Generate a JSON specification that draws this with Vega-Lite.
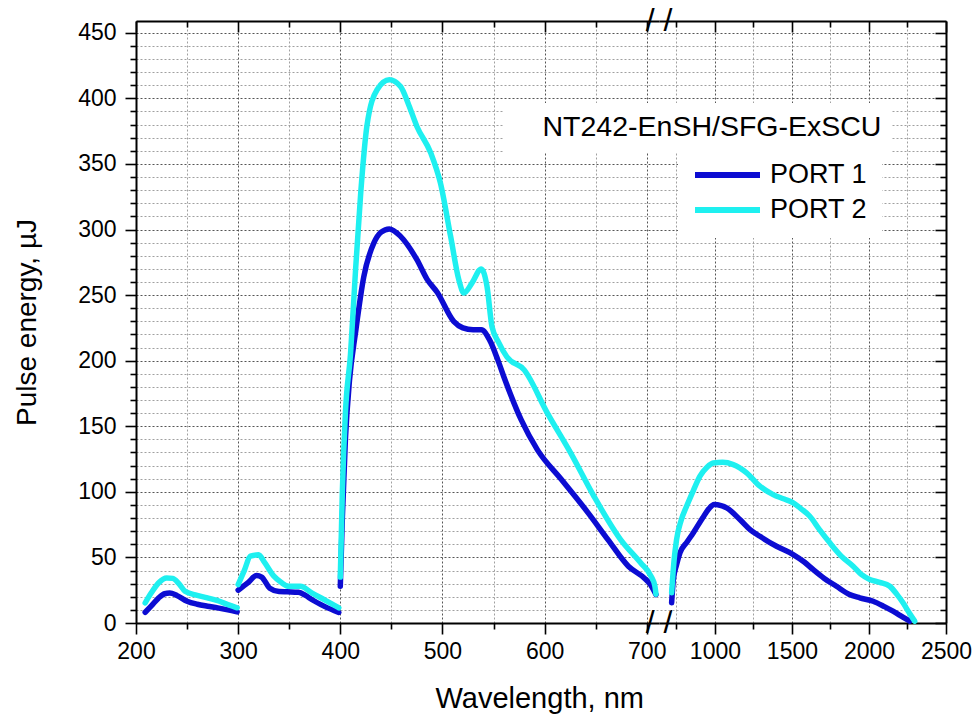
{
  "$schema": "https://vega.github.io/schema/vega-lite/v6.json",
  "autosize": {"type": "none"},
  "padding": {"left": 136, "top": 21, "right": 838, "bottom": 694},
  "bounds": "flush",
  "config": {
    "font": "Liberation Sans",
    "view": {"stroke": null},
    "axis": {
      "labelFont": "Liberation Sans", "labelFontSize": 23, "labelColor": "black",
      "titleFont": "Liberation Sans", "titleFontSize": 29, "titleFontWeight": "normal", "titleColor": "black",
      "domainColor": "black", "domainWidth": 2, "tickColor": "black", "tickWidth": 1.6,
      "labelOverlap": false, "labelFlush": false
    }
  },
  "datasets": {
    "vis": [
      {"port": "PORT 1", "seg": 1, "wl": 209, "e": 8.2},
      {"port": "PORT 1", "seg": 1, "wl": 215, "e": 13},
      {"port": "PORT 1", "seg": 1, "wl": 222, "e": 19},
      {"port": "PORT 1", "seg": 1, "wl": 228, "e": 22.3},
      {"port": "PORT 1", "seg": 1, "wl": 233, "e": 22.8},
      {"port": "PORT 1", "seg": 1, "wl": 240, "e": 21},
      {"port": "PORT 1", "seg": 1, "wl": 250, "e": 16.6},
      {"port": "PORT 1", "seg": 1, "wl": 260, "e": 14.3},
      {"port": "PORT 1", "seg": 1, "wl": 270, "e": 12.8},
      {"port": "PORT 1", "seg": 1, "wl": 280, "e": 11.5},
      {"port": "PORT 1", "seg": 1, "wl": 290, "e": 10},
      {"port": "PORT 1", "seg": 1, "wl": 299, "e": 8.5},
      {"port": "PORT 1", "seg": 2, "wl": 300, "e": 25},
      {"port": "PORT 1", "seg": 2, "wl": 310, "e": 31},
      {"port": "PORT 1", "seg": 2, "wl": 318, "e": 36.2},
      {"port": "PORT 1", "seg": 2, "wl": 323, "e": 35},
      {"port": "PORT 1", "seg": 2, "wl": 331, "e": 26.5},
      {"port": "PORT 1", "seg": 2, "wl": 340, "e": 24},
      {"port": "PORT 1", "seg": 2, "wl": 348, "e": 23.8},
      {"port": "PORT 1", "seg": 2, "wl": 359, "e": 23.5},
      {"port": "PORT 1", "seg": 2, "wl": 366, "e": 21},
      {"port": "PORT 1", "seg": 2, "wl": 372, "e": 17.9},
      {"port": "PORT 1", "seg": 2, "wl": 385, "e": 12.5},
      {"port": "PORT 1", "seg": 2, "wl": 398.5, "e": 8},
      {"port": "PORT 1", "seg": 3, "wl": 400, "e": 28},
      {"port": "PORT 1", "seg": 3, "wl": 402, "e": 80},
      {"port": "PORT 1", "seg": 3, "wl": 405, "e": 140},
      {"port": "PORT 1", "seg": 3, "wl": 409, "e": 185},
      {"port": "PORT 1", "seg": 3, "wl": 415, "e": 222},
      {"port": "PORT 1", "seg": 3, "wl": 423, "e": 264},
      {"port": "PORT 1", "seg": 3, "wl": 433, "e": 290},
      {"port": "PORT 1", "seg": 3, "wl": 440, "e": 298},
      {"port": "PORT 1", "seg": 3, "wl": 448, "e": 300.5},
      {"port": "PORT 1", "seg": 3, "wl": 459, "e": 294.8},
      {"port": "PORT 1", "seg": 3, "wl": 475, "e": 277},
      {"port": "PORT 1", "seg": 3, "wl": 485, "e": 262},
      {"port": "PORT 1", "seg": 3, "wl": 495, "e": 252},
      {"port": "PORT 1", "seg": 3, "wl": 511, "e": 230},
      {"port": "PORT 1", "seg": 3, "wl": 520, "e": 225},
      {"port": "PORT 1", "seg": 3, "wl": 530, "e": 223.5},
      {"port": "PORT 1", "seg": 3, "wl": 538, "e": 223.5},
      {"port": "PORT 1", "seg": 3, "wl": 546, "e": 216},
      {"port": "PORT 1", "seg": 3, "wl": 554, "e": 201},
      {"port": "PORT 1", "seg": 3, "wl": 560, "e": 188},
      {"port": "PORT 1", "seg": 3, "wl": 577, "e": 155},
      {"port": "PORT 1", "seg": 3, "wl": 593, "e": 132},
      {"port": "PORT 1", "seg": 3, "wl": 616.5, "e": 109.4},
      {"port": "PORT 1", "seg": 3, "wl": 642.6, "e": 84},
      {"port": "PORT 1", "seg": 3, "wl": 662, "e": 63.6},
      {"port": "PORT 1", "seg": 3, "wl": 682, "e": 43.3},
      {"port": "PORT 1", "seg": 3, "wl": 698, "e": 34},
      {"port": "PORT 1", "seg": 3, "wl": 703, "e": 30},
      {"port": "PORT 1", "seg": 3, "wl": 709, "e": 21.7},
      {"port": "PORT 2", "seg": 1, "wl": 209, "e": 15.4},
      {"port": "PORT 2", "seg": 1, "wl": 215, "e": 23},
      {"port": "PORT 2", "seg": 1, "wl": 222, "e": 30.5},
      {"port": "PORT 2", "seg": 1, "wl": 230, "e": 34.4},
      {"port": "PORT 2", "seg": 1, "wl": 236, "e": 34},
      {"port": "PORT 2", "seg": 1, "wl": 242, "e": 30},
      {"port": "PORT 2", "seg": 1, "wl": 248, "e": 24.2},
      {"port": "PORT 2", "seg": 1, "wl": 258, "e": 21.5},
      {"port": "PORT 2", "seg": 1, "wl": 270, "e": 19.2},
      {"port": "PORT 2", "seg": 1, "wl": 280, "e": 17},
      {"port": "PORT 2", "seg": 1, "wl": 290, "e": 14},
      {"port": "PORT 2", "seg": 1, "wl": 299, "e": 11.6},
      {"port": "PORT 2", "seg": 2, "wl": 300, "e": 29.3},
      {"port": "PORT 2", "seg": 2, "wl": 306, "e": 40},
      {"port": "PORT 2", "seg": 2, "wl": 312, "e": 51},
      {"port": "PORT 2", "seg": 2, "wl": 320, "e": 52},
      {"port": "PORT 2", "seg": 2, "wl": 326, "e": 46},
      {"port": "PORT 2", "seg": 2, "wl": 335, "e": 35.7},
      {"port": "PORT 2", "seg": 2, "wl": 342, "e": 31},
      {"port": "PORT 2", "seg": 2, "wl": 349.5, "e": 28},
      {"port": "PORT 2", "seg": 2, "wl": 361, "e": 28},
      {"port": "PORT 2", "seg": 2, "wl": 372, "e": 23},
      {"port": "PORT 2", "seg": 2, "wl": 385, "e": 17.5},
      {"port": "PORT 2", "seg": 2, "wl": 398.5, "e": 11.6},
      {"port": "PORT 2", "seg": 3, "wl": 400, "e": 35},
      {"port": "PORT 2", "seg": 3, "wl": 402, "e": 100},
      {"port": "PORT 2", "seg": 3, "wl": 405, "e": 160},
      {"port": "PORT 2", "seg": 3, "wl": 410, "e": 205},
      {"port": "PORT 2", "seg": 3, "wl": 415, "e": 270},
      {"port": "PORT 2", "seg": 3, "wl": 420, "e": 328},
      {"port": "PORT 2", "seg": 3, "wl": 426, "e": 378.6},
      {"port": "PORT 2", "seg": 3, "wl": 436, "e": 406.6},
      {"port": "PORT 2", "seg": 3, "wl": 448, "e": 414.2},
      {"port": "PORT 2", "seg": 3, "wl": 459, "e": 409},
      {"port": "PORT 2", "seg": 3, "wl": 467, "e": 395},
      {"port": "PORT 2", "seg": 3, "wl": 475, "e": 378.6},
      {"port": "PORT 2", "seg": 3, "wl": 488.6, "e": 358.3},
      {"port": "PORT 2", "seg": 3, "wl": 498, "e": 335.5},
      {"port": "PORT 2", "seg": 3, "wl": 508, "e": 294.8},
      {"port": "PORT 2", "seg": 3, "wl": 516, "e": 261.8},
      {"port": "PORT 2", "seg": 3, "wl": 521, "e": 251.6},
      {"port": "PORT 2", "seg": 3, "wl": 529, "e": 259.3},
      {"port": "PORT 2", "seg": 3, "wl": 538, "e": 270},
      {"port": "PORT 2", "seg": 3, "wl": 543.6, "e": 256.7},
      {"port": "PORT 2", "seg": 3, "wl": 548.5, "e": 226},
      {"port": "PORT 2", "seg": 3, "wl": 555, "e": 214},
      {"port": "PORT 2", "seg": 3, "wl": 563, "e": 203},
      {"port": "PORT 2", "seg": 3, "wl": 580, "e": 193},
      {"port": "PORT 2", "seg": 3, "wl": 602.6, "e": 160.2},
      {"port": "PORT 2", "seg": 3, "wl": 625.5, "e": 129.7},
      {"port": "PORT 2", "seg": 3, "wl": 648.3, "e": 96.6},
      {"port": "PORT 2", "seg": 3, "wl": 674.4, "e": 63.6},
      {"port": "PORT 2", "seg": 3, "wl": 694, "e": 45.9},
      {"port": "PORT 2", "seg": 3, "wl": 704, "e": 36},
      {"port": "PORT 2", "seg": 3, "wl": 708, "e": 28},
      {"port": "PORT 2", "seg": 3, "wl": 709, "e": 22}
    ],
    "ir": [
      {"port": "PORT 1", "seg": 4, "wl": 719, "e": 15.4},
      {"port": "PORT 1", "seg": 4, "wl": 730, "e": 33},
      {"port": "PORT 1", "seg": 4, "wl": 750, "e": 44},
      {"port": "PORT 1", "seg": 4, "wl": 773, "e": 53.5},
      {"port": "PORT 1", "seg": 4, "wl": 820, "e": 62},
      {"port": "PORT 1", "seg": 4, "wl": 859, "e": 68.7},
      {"port": "PORT 1", "seg": 4, "wl": 920, "e": 80},
      {"port": "PORT 1", "seg": 4, "wl": 960, "e": 87},
      {"port": "PORT 1", "seg": 4, "wl": 995, "e": 90.3},
      {"port": "PORT 1", "seg": 4, "wl": 1040, "e": 89.5},
      {"port": "PORT 1", "seg": 4, "wl": 1076, "e": 87.8},
      {"port": "PORT 1", "seg": 4, "wl": 1162, "e": 78.9},
      {"port": "PORT 1", "seg": 4, "wl": 1230, "e": 71},
      {"port": "PORT 1", "seg": 4, "wl": 1292, "e": 66.1},
      {"port": "PORT 1", "seg": 4, "wl": 1400, "e": 58.5},
      {"port": "PORT 1", "seg": 4, "wl": 1508, "e": 52.2},
      {"port": "PORT 1", "seg": 4, "wl": 1580, "e": 46.5},
      {"port": "PORT 1", "seg": 4, "wl": 1637, "e": 40.8},
      {"port": "PORT 1", "seg": 4, "wl": 1710, "e": 34},
      {"port": "PORT 1", "seg": 4, "wl": 1789, "e": 28},
      {"port": "PORT 1", "seg": 4, "wl": 1870, "e": 22},
      {"port": "PORT 1", "seg": 4, "wl": 1940, "e": 19.2},
      {"port": "PORT 1", "seg": 4, "wl": 2027, "e": 16.6},
      {"port": "PORT 1", "seg": 4, "wl": 2100, "e": 12.5},
      {"port": "PORT 1", "seg": 4, "wl": 2156, "e": 9},
      {"port": "PORT 1", "seg": 4, "wl": 2220, "e": 4.5},
      {"port": "PORT 1", "seg": 4, "wl": 2265, "e": 1.4},
      {"port": "PORT 2", "seg": 4, "wl": 719, "e": 23},
      {"port": "PORT 2", "seg": 4, "wl": 735, "e": 48},
      {"port": "PORT 2", "seg": 4, "wl": 751, "e": 63.6},
      {"port": "PORT 2", "seg": 4, "wl": 780, "e": 78},
      {"port": "PORT 2", "seg": 4, "wl": 816, "e": 89},
      {"port": "PORT 2", "seg": 4, "wl": 860, "e": 101},
      {"port": "PORT 2", "seg": 4, "wl": 903, "e": 111.9},
      {"port": "PORT 2", "seg": 4, "wl": 950, "e": 119},
      {"port": "PORT 2", "seg": 4, "wl": 989, "e": 122},
      {"port": "PORT 2", "seg": 4, "wl": 1050, "e": 122.5},
      {"port": "PORT 2", "seg": 4, "wl": 1119, "e": 120.8},
      {"port": "PORT 2", "seg": 4, "wl": 1206, "e": 114.5},
      {"port": "PORT 2", "seg": 4, "wl": 1292, "e": 104.3},
      {"port": "PORT 2", "seg": 4, "wl": 1378, "e": 97.9},
      {"port": "PORT 2", "seg": 4, "wl": 1450, "e": 94.5},
      {"port": "PORT 2", "seg": 4, "wl": 1508, "e": 91.6},
      {"port": "PORT 2", "seg": 4, "wl": 1560, "e": 87},
      {"port": "PORT 2", "seg": 4, "wl": 1616, "e": 81.4},
      {"port": "PORT 2", "seg": 4, "wl": 1680, "e": 71},
      {"port": "PORT 2", "seg": 4, "wl": 1746, "e": 61.1},
      {"port": "PORT 2", "seg": 4, "wl": 1820, "e": 51},
      {"port": "PORT 2", "seg": 4, "wl": 1897, "e": 43.3},
      {"port": "PORT 2", "seg": 4, "wl": 1950, "e": 37},
      {"port": "PORT 2", "seg": 4, "wl": 2005, "e": 33.2},
      {"port": "PORT 2", "seg": 4, "wl": 2070, "e": 31},
      {"port": "PORT 2", "seg": 4, "wl": 2135, "e": 28},
      {"port": "PORT 2", "seg": 4, "wl": 2180, "e": 22},
      {"port": "PORT 2", "seg": 4, "wl": 2221, "e": 15.4},
      {"port": "PORT 2", "seg": 4, "wl": 2260, "e": 8},
      {"port": "PORT 2", "seg": 4, "wl": 2297, "e": 1.4}
    ],
    "ttl": [{"label": "NT242-EnSH/SFG-ExSCU"}]
  },
  "hconcat": [
    {
      "width": 523,
      "height": 602,
      "layer": [
        {
          "data": {"name": "vis"},
          "mark": {"type": "line", "interpolate": "monotone", "strokeWidth": 5.5, "strokeCap": "round"},
          "encoding": {
            "x": {"field": "wl", "type": "quantitative",
              "scale": {"domain": [200, 712], "nice": false, "zero": false},
              "axis": {"orient": "bottom", "title": "Wavelength, nm", "titlePadding": 21, "titleAnchor": "start", "titleX": 299,
                "values": [200, 250, 300, 350, 400, 450, 500, 550, 600, 650, 700],
                "format": "d",
                "labelExpr": "datum.value % 100 === 0 ? datum.label : ''",
                "labelPadding": 6,
                "tickSize": {"condition": {"test": "datum.value % 100 === 0", "value": 11}, "value": 6},
                "grid": true,
                "gridColor": {"condition": {"test": "datum.value % 100 === 0", "value": "#555555"}, "value": "#a0a0a0"},
                "gridDash": [2, 2], "gridWidth": 1}},
            "y": {"field": "e", "type": "quantitative",
              "scale": {"domain": [0, 459], "nice": false, "zero": true},
              "axis": {"orient": "left", "title": "Pulse energy, µJ", "titlePadding": 36, "titleFontSize": 28,
                "values": [0, 10, 20, 30, 40, 50, 60, 70, 80, 90, 100, 110, 120, 130, 140, 150, 160, 170, 180, 190, 200, 210, 220, 230, 240, 250, 260, 270, 280, 290, 300, 310, 320, 330, 340, 350, 360, 370, 380, 390, 400, 410, 420, 430, 440, 450],
                "format": "d",
                "labelExpr": "datum.value % 50 === 0 ? datum.label : ''",
                "labelPadding": 9,
                "tickSize": {"condition": {"test": "datum.value % 50 === 0", "value": 11}, "value": 6},
                "grid": true,
                "gridColor": {"condition": {"test": "datum.value % 50 === 0", "value": "#555555"}, "value": "#a0a0a0"},
                "gridDash": [2, 2], "gridWidth": 1}},
            "color": {"field": "port", "type": "nominal",
              "scale": {"domain": ["PORT 1", "PORT 2"], "range": ["#0c0cd2", "#1ef0f0"]},
              "legend": {"orient": "none", "legendX": 542, "legendY": 126, "title": null,
                "fillColor": "white", "padding": 14, "rowPadding": 7,
                "symbolType": "stroke", "symbolSize": 4225, "symbolStrokeWidth": 6, "clipHeight": 28,
                "labelFont": "Liberation Sans", "labelFontSize": 27, "labelColor": "black", "labelOffset": 7}},
            "detail": {"field": "seg", "type": "nominal"}
          }
        },
        {
          "data": {"name": "vis"},
          "mark": {"type": "point", "opacity": 0},
          "encoding": {
            "x": {"field": "wl", "type": "quantitative",
              "axis": {"orient": "top", "title": null, "labels": false, "grid": false,
                "values": [200, 250, 300, 350, 400, 450, 500, 550, 600, 650, 700],
                "tickSize": {"condition": {"test": "datum.value % 100 === 0", "value": -11}, "value": -6}}},
            "y": {"field": "e", "type": "quantitative", "axis": null}
          }
        },
        {
          "data": {"name": "ttl"},
          "mark": {"type": "point", "opacity": 0},
          "encoding": {
            "shape": {"field": "label", "type": "nominal",
              "legend": {"orient": "none", "legendX": 368, "legendY": 82, "title": null,
                "fillColor": "white", "padding": 10, "symbolOpacity": 0, "symbolSize": 0, "labelOffset": 0,
                "labelFont": "Liberation Sans", "labelFontSize": 28.5, "labelColor": "black", "labelLimit": 600}}
          }
        },
        {
          "data": {"values": [{}]},
          "mark": {"type": "text", "text": "/ /", "fontSize": 32, "baseline": "middle", "align": "center", "color": "black"},
          "encoding": {
            "x": {"datum": 712, "type": "quantitative", "axis": null},
            "y": {"datum": 0, "type": "quantitative", "axis": null}
          }
        },
        {
          "data": {"values": [{}]},
          "mark": {"type": "text", "text": "/ /", "fontSize": 32, "baseline": "middle", "align": "center", "color": "black"},
          "encoding": {
            "x": {"datum": 712, "type": "quantitative", "axis": null},
            "y": {"datum": 459, "type": "quantitative", "axis": null}
          }
        }
      ],
      "resolve": {"axis": {"x": "independent", "y": "independent"}}
    },
    {
      "width": 287,
      "height": 602,
      "layer": [
        {
          "data": {"name": "ir"},
          "mark": {"type": "line", "interpolate": "monotone", "strokeWidth": 5.5, "strokeCap": "round"},
          "encoding": {
            "x": {"field": "wl", "type": "quantitative",
              "scale": {"domain": [637, 2500], "nice": false, "zero": false},
              "axis": {"orient": "bottom", "title": null,
                "values": [750, 1000, 1250, 1500, 1750, 2000, 2250, 2500],
                "format": "d",
                "labelExpr": "datum.value % 500 === 0 ? datum.label : ''",
                "labelPadding": 6,
                "tickSize": {"condition": {"test": "datum.value % 500 === 0", "value": 11}, "value": 6},
                "grid": true,
                "gridColor": {"condition": {"test": "datum.value % 500 === 0", "value": "#555555"}, "value": "#a0a0a0"},
                "gridDash": [2, 2], "gridWidth": 1}},
            "y": {"field": "e", "type": "quantitative",
              "scale": {"domain": [0, 459], "nice": false, "zero": true},
              "axis": {"orient": "right", "title": null, "labels": false,
                "values": [0, 10, 20, 30, 40, 50, 60, 70, 80, 90, 100, 110, 120, 130, 140, 150, 160, 170, 180, 190, 200, 210, 220, 230, 240, 250, 260, 270, 280, 290, 300, 310, 320, 330, 340, 350, 360, 370, 380, 390, 400, 410, 420, 430, 440, 450],
                "tickSize": {"condition": {"test": "datum.value % 50 === 0", "value": -11}, "value": -6},
                "grid": true,
                "gridColor": {"condition": {"test": "datum.value % 50 === 0", "value": "#555555"}, "value": "#a0a0a0"},
                "gridDash": [2, 2], "gridWidth": 1}},
            "color": {"field": "port", "type": "nominal", "legend": null},
            "detail": {"field": "seg", "type": "nominal"}
          }
        },
        {
          "data": {"name": "ir"},
          "mark": {"type": "point", "opacity": 0},
          "encoding": {
            "x": {"field": "wl", "type": "quantitative",
              "axis": {"orient": "top", "title": null, "labels": false, "grid": false,
                "values": [750, 1000, 1250, 1500, 1750, 2000, 2250, 2500],
                "tickSize": {"condition": {"test": "datum.value % 500 === 0", "value": -11}, "value": -6}}},
            "y": {"field": "e", "type": "quantitative", "axis": null}
          }
        }
      ],
      "resolve": {"axis": {"x": "independent", "y": "independent"}}
    }
  ],
  "spacing": 0,
  "resolve": {"scale": {"color": "shared", "shape": "shared", "x": "independent", "y": "shared"}, "legend": {"color": "shared", "shape": "shared"}}
}
